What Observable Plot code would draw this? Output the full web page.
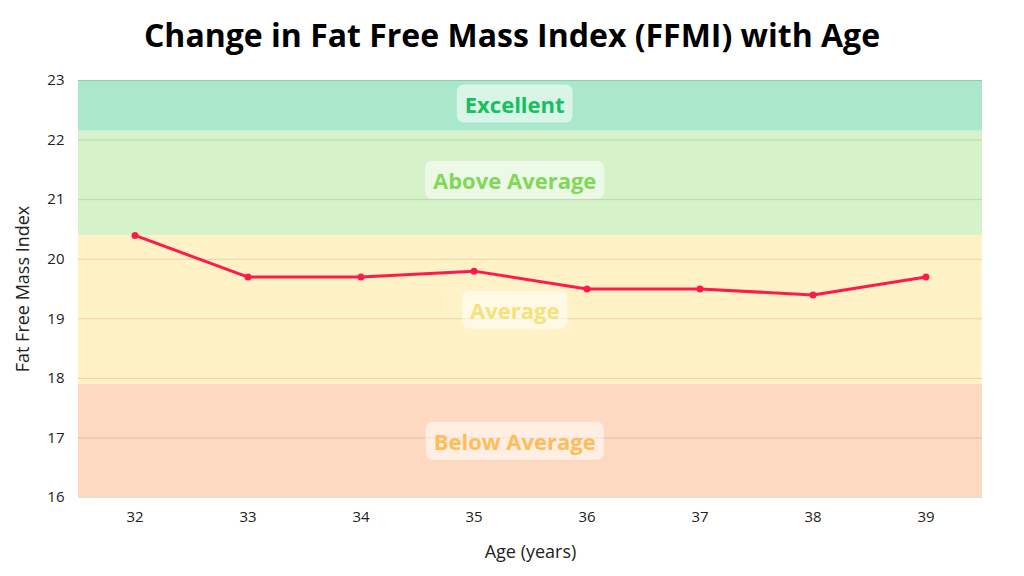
<!DOCTYPE html>
<html><head><meta charset="utf-8">
<script src="https://cdn.jsdelivr.net/npm/d3@7"></script>
<script src="https://cdn.jsdelivr.net/npm/@observablehq/plot@0.6"></script>
<style>
body{margin:0;background:#fff;font-family:"Open Sans",sans-serif;}
#title{height:70px;line-height:70px;text-align:center;font-size:32px;font-weight:700;color:#000;}
</style></head><body>
<div id="title">Change in Fat Free Mass Index (FFMI) with Age</div>
<div id="chart"></div>
<script>
const ages = [32,33,34,35,36,37,38,39];
const ffmi = [20.4,19.7,19.7,19.8,19.5,19.5,19.4,19.7];
const bandNames = ["Below Average","Average","Above Average","Excellent"];
const bandLow = [16,17.9,20.4,22.15];
const bandHigh = [17.9,20.4,22.15,23];
const bandFill = ["#fdd9c2","#fff2c6","#d5f2c8","#a9e8cb"];
const bandText = ["#ffbd59","#f2e37c","#7ed957","#16c060"];
const labelY = [16.92,19.12,21.3,22.58];
const yTicks = [16,17,18,19,20,21,22,23];

const bands = bandNames.map((n,i)=>({n,lo:bandLow[i],hi:bandHigh[i],fill:bandFill[i],tc:bandText[i],ly:labelY[i]}));
const pts = ages.map((a,i)=>({a,v:ffmi[i]}));

const plot = Plot.plot({
  width:1024,height:506,marginTop:10,marginBottom:79,marginLeft:78,marginRight:42,
  style:{fontFamily:"Open Sans, sans-serif",fontSize:"15px",color:"#222"},
  x:{domain:[31.5,39.5]},
  y:{domain:[16,23]},
  marks:[
    Plot.rectY(bands,{x1:31.5,x2:39.5,y1:"lo",y2:"hi",fill:"fill"}),
    Plot.ruleY(yTicks,{stroke:"#000",strokeOpacity:0.12}),
    Plot.text(bands,{x:35.36,y:"ly",text:"n",fill:"tc",fontSize:22,fontWeight:700,className:"blabel"}),
    Plot.line(pts,{x:"a",y:"v",stroke:"#ff1a4b",strokeWidth:3}),
    Plot.dot(pts,{x:"a",y:"v",fill:"#ff1a4b",r:3.5}),
    Plot.axisX({ticks:ages,tickFormat:d=>String(d),tickSize:0,tickPadding:14,label:"Age (years)",labelAnchor:"center",labelOffset:60,labelArrow:"none",fontSize:15}),
    Plot.axisY({ticks:yTicks,tickFormat:d=>String(d),tickSize:0,tickPadding:14,label:"Fat Free Mass Index",labelAnchor:"center",labelOffset:62,labelArrow:"none",fontSize:15})
  ]
});
document.getElementById("chart").append(plot);
plot.querySelectorAll("[aria-label='x-axis label'] text, [aria-label='y-axis label'] text").forEach(t=>t.style.fontSize="18px");
plot.querySelectorAll(".blabel text").forEach(t=>{
  const b=t.getBBox();
  const r=document.createElementNS("http://www.w3.org/2000/svg","rect");
  r.setAttribute("x",b.x-8);r.setAttribute("y",b.y-4);
  r.setAttribute("width",b.width+16);r.setAttribute("height",b.height+8);
  r.setAttribute("rx",7);r.setAttribute("fill","#fff");r.setAttribute("fill-opacity",0.55);
  const tr=t.getAttribute("transform"); if(tr) r.setAttribute("transform",tr);
  t.parentNode.insertBefore(r,t);
});
</script></body></html>
